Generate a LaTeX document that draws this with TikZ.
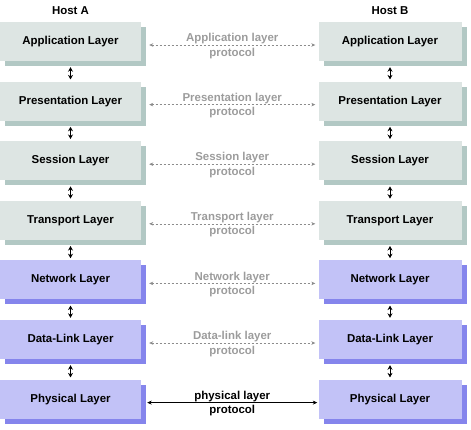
\documentclass[tikz,border=0pt]{standalone}
\usepackage{fontspec}
\setmainfont{Liberation Sans}
\usetikzlibrary{shadows,arrows.meta}
\definecolor{gfront}{HTML}{DDE5E3}
\definecolor{gshadow}{HTML}{B2C8C4}
\definecolor{lfront}{HTML}{C2C2F7}
\definecolor{lshadow}{HTML}{8585EC}
\definecolor{ptext}{HTML}{9C9C9C}
\definecolor{pline}{HTML}{8C8C8C}
\begin{document}
\begin{tikzpicture}[x=1bp,y=-1bp,
  lbl/.style={font=\fontsize{11.5}{14.4}\selectfont\bfseries},
  layer/.style={lbl, minimum width=141bp, minimum height=39bp, inner sep=0pt},
  upper/.style={layer, fill=gfront, general shadow={fill=gshadow, shadow xshift=5bp, shadow yshift=-5bp}},
  lower/.style={layer, fill=lfront, general shadow={fill=lshadow, shadow xshift=5bp, shadow yshift=-5bp}},
  vlink/.style={{Stealth[length=4.5bp,width=5bp]}-{Stealth[length=4.5bp,width=5bp]}, line width=1bp, black},
  proto/.style={{Stealth[length=4bp,width=3.5bp]}-{Stealth[length=4bp,width=3.5bp]}, dash pattern=on 2.5bp off 1.5bp, line width=0.6bp, pline},
  phys/.style={{Stealth[length=4.5bp,width=4bp]}-{Stealth[length=4.5bp,width=4bp]}, line width=0.8bp, black},
  ptxt/.style={lbl, align=center, text=ptext, inner sep=0pt},
  phtxt/.style={lbl, align=center, text=black, inner sep=0pt}
]
\useasboundingbox (0,0) rectangle (471,429);

\node[lbl] (hA) at (70.5,11) {Host A};
\node[lbl] (hB) at (390,11) {Host B};

\node[upper] (a1) at (70.5,41.5) {Application Layer};
\node[upper] (a2) at (70.5,101.1) {Presentation Layer};
\node[upper] (a3) at (70.5,160.7) {Session Layer};
\node[upper] (a4) at (70.5,220.3) {Transport Layer};
\node[lower] (a5) at (70.5,279.9) {Network Layer};
\node[lower] (a6) at (70.5,339.5) {Data-Link Layer};
\node[lower] (a7) at (70.5,399.1) {Physical Layer};

\node[upper, minimum width=143bp] (b1) at (390,41.5) {Application Layer};
\node[upper, minimum width=143bp] (b2) at (390,101.1) {Presentation Layer};
\node[upper, minimum width=143bp] (b3) at (390,160.7) {Session Layer};
\node[upper, minimum width=143bp] (b4) at (390,220.3) {Transport Layer};
\node[lower, minimum width=143bp] (b5) at (390,279.9) {Network Layer};
\node[lower, minimum width=143bp] (b6) at (390,339.5) {Data-Link Layer};
\node[lower, minimum width=143bp] (b7) at (390,399.1) {Physical Layer};

\foreach \u/\v in {1/2,2/3,3/4,4/5,5/6,6/7}{
  \draw[vlink] ([yshift=-6bp]a\u.south) -- ([yshift=2bp]a\v.north);
  \draw[vlink] ([yshift=-6bp]b\u.south) -- ([yshift=2bp]b\v.north);
}

\draw[proto] ([xshift=8bp,yshift=-3.5bp]a1.east) -- node[ptxt,yshift=-1bp]{Application layer\\protocol} ([xshift=-3bp,yshift=-3.5bp]b1.west);
\draw[proto] ([xshift=8bp,yshift=-3.5bp]a2.east) -- node[ptxt,yshift=-1bp]{Presentation layer\\protocol} ([xshift=-3bp,yshift=-3.5bp]b2.west);
\draw[proto] ([xshift=8bp,yshift=-3.5bp]a3.east) -- node[ptxt,yshift=-1bp]{Session layer\\protocol} ([xshift=-3bp,yshift=-3.5bp]b3.west);
\draw[proto] ([xshift=8bp,yshift=-3.5bp]a4.east) -- node[ptxt,yshift=-1bp]{Transport layer\\protocol} ([xshift=-3bp,yshift=-3.5bp]b4.west);
\draw[proto] ([xshift=8bp,yshift=-3.5bp]a5.east) -- node[ptxt,yshift=-1bp]{Network layer\\protocol} ([xshift=-3bp,yshift=-3.5bp]b5.west);
\draw[proto] ([xshift=8bp,yshift=-3.5bp]a6.east) -- node[ptxt,yshift=-1bp]{Data-link layer\\protocol} ([xshift=-3bp,yshift=-3.5bp]b6.west);
\draw[phys] ([xshift=6bp,yshift=-3.5bp]a7.east) -- node[phtxt,yshift=-1bp]{physical layer\\protocol} ([xshift=-1bp,yshift=-3.5bp]b7.west);
\end{tikzpicture}
\end{document}
